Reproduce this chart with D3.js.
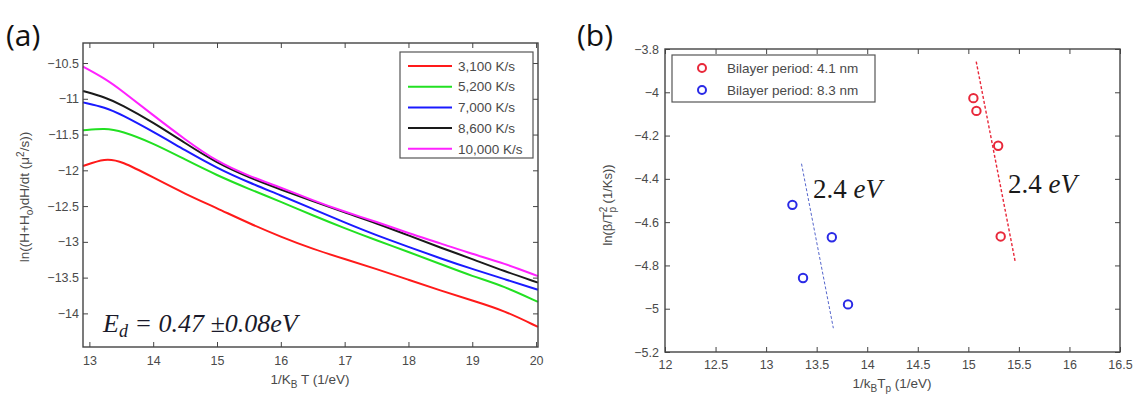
<!DOCTYPE html>
<html>
<head>
<meta charset="utf-8">
<script src="https://cdn.jsdelivr.net/npm/d3@7"></script>
<style>
  html, body { margin: 0; padding: 0; background: #fff; }
</style>
</head>
<body>
<script>
// ---------- Panel (a) data ----------
const aX = [12.9, 13.25, 13.5, 14, 14.5, 15, 15.5, 16, 16.5, 17, 17.5, 18, 18.5, 19, 19.5, 20.03];
const rate3100  = [-11.94, -11.83, -11.87, -12.10, -12.33, -12.53, -12.74, -12.93, -13.10, -13.24, -13.38, -13.53, -13.68, -13.82, -13.96, -14.19];
const rate5200  = [-11.44, -11.41, -11.45, -11.62, -11.85, -12.07, -12.26, -12.44, -12.63, -12.81, -12.98, -13.14, -13.31, -13.48, -13.62, -13.84];
const rate7000  = [-11.05, -11.12, -11.22, -11.46, -11.72, -11.97, -12.17, -12.35, -12.54, -12.73, -12.91, -13.07, -13.23, -13.38, -13.52, -13.67];
const rate8600  = [-10.89, -10.98, -11.08, -11.33, -11.62, -11.90, -12.10, -12.27, -12.43, -12.59, -12.74, -12.91, -13.08, -13.24, -13.41, -13.57];
const rate10000 = [-10.55, -10.72, -10.88, -11.23, -11.57, -11.88, -12.08, -12.24, -12.42, -12.58, -12.72, -12.88, -13.02, -13.17, -13.30, -13.48];
const aSeriesNames = ["3,100 K/s", "5,200 K/s", "7,000 K/s", "8,600 K/s", "10,000 K/s"];
const aSeriesValues = [rate3100, rate5200, rate7000, rate8600, rate10000];
const aColors = ["#ff1a1a", "#22e022", "#1a1aff", "#1a1a1a", "#ff22ff"];
const aXTicks = [13, 14, 15, 16, 17, 18, 19, 20];
const aYTicks = [-10.5, -11, -11.5, -12, -12.5, -13, -13.5, -14];

// ---------- Panel (b) data ----------
const b41X = [15.05, 15.08, 15.295, 15.32];
const b41Y = [-4.027, -4.086, -4.247, -4.666];
const b83X = [13.26, 13.365, 13.65, 13.81];
const b83Y = [-4.52, -4.858, -4.67, -4.98];
const fit41X = [15.078, 15.465];
const fit41Y = [-3.858, -4.786];
const fit83X = [13.35, 13.665];
const fit83Y = [-4.33, -5.09];
const bNames = ["Bilayer period: 4.1 nm", "Bilayer period: 8.3 nm"];
const bColors = ["#e8283a", "#2a2ae6"];
const bXTicks = [12, 12.5, 13, 13.5, 14, 14.5, 15, 15.5, 16, 16.5];
const bYTicks = [-3.8, -4, -4.2, -4.4, -4.6, -4.8, -5, -5.2];

const SANS = "'Liberation Sans', Arial, sans-serif";
const SERIF = "'Liberation Serif', 'Times New Roman', serif";
const svg = d3.select("body").append("svg").attr("width", 1135).attr("height", 394)
  .style("font-family", SANS);
const axisColor = "#444";
const textColor = "#4a4a4a";

function frame(x, y, xTicks, yTicks, xPad, yPad) {
  const [x0, x1] = x.range(), [y0, y1] = y.range();
  const g = svg.append("g");
  const fmt = d3.format("");
  g.append("g").attr("transform", `translate(0,${y0})`)
    .call(d3.axisBottom(x).tickValues(xTicks).tickSizeInner(-5).tickSizeOuter(0).tickPadding(xPad).tickFormat(fmt));
  g.append("g").attr("transform", `translate(0,${y1})`)
    .call(d3.axisTop(x).tickValues(xTicks).tickSizeInner(-5).tickSizeOuter(0).tickFormat(""));
  g.append("g").attr("transform", `translate(${x0},0)`)
    .call(d3.axisLeft(y).tickValues(yTicks).tickSizeInner(-5).tickSizeOuter(0).tickPadding(yPad).tickFormat(fmt));
  g.append("g").attr("transform", `translate(${x1},0)`)
    .call(d3.axisRight(y).tickValues(yTicks).tickSizeInner(-5).tickSizeOuter(0).tickFormat(""));
  g.selectAll(".domain").remove();
  g.selectAll("g").attr("font-family", null);
  g.selectAll(".tick line").attr("stroke", axisColor).attr("stroke-width", 1);
  g.selectAll(".tick text").attr("fill", textColor).style("font-size", "12.5px").style("font-family", SANS);
  g.append("rect").attr("x", x0).attr("y", y1).attr("width", x1 - x0).attr("height", y0 - y1)
    .attr("fill", "none").attr("stroke", axisColor).attr("stroke-width", 1.4);
  return g;
}

// ================= Panel (a) =================
const xA = d3.scaleLinear().domain([12.9, 20.03]).range([83, 538]);
const yA = d3.scaleLinear().domain([-14.47, -10.22]).range([347, 43]);

const lineA = d3.line().x(d => xA(d[0])).y(d => yA(d[1])).curve(d3.curveBasis);
const gA = svg.append("g");
aSeriesValues.forEach((vals, i) => {
  gA.append("path").datum(aX.map((xv, j) => [xv, vals[j]]))
    .attr("d", lineA).attr("fill", "none").attr("stroke", aColors[i]).attr("stroke-width", 2);
});
frame(xA, yA, aXTicks, aYTicks, 9, 4);

// legend (a)
const legA = svg.append("g");
legA.append("rect").attr("x", 400).attr("y", 52).attr("width", 133).attr("height", 106)
  .attr("fill", "#fff").attr("stroke", "#555").attr("stroke-width", 1.2);
aSeriesNames.forEach((n, i) => {
  const yy = 66 + i * 20.7;
  legA.append("line").attr("x1", 408).attr("x2", 452).attr("y1", yy).attr("y2", yy)
    .attr("stroke", aColors[i]).attr("stroke-width", 2);
  legA.append("text").attr("x", 458).attr("y", yy).attr("dy", "0.35em")
    .style("font-size", "13.5px").attr("fill", textColor).text(n);
});

// annotation (a)
const ed = svg.append("text").attr("x", 103).attr("y", 332)
  .style("font-family", SERIF).style("font-style", "italic")
  .style("font-size", "26px").attr("fill", "#1a1a2a");
ed.append("tspan").text("E");
ed.append("tspan").attr("dy", 5).style("font-size", "18px").text("d");
ed.append("tspan").attr("dy", -5).text(" = 0.47 \u00b10.08eV");

// labels (a)
const xlA = svg.append("text").attr("x", 310).attr("y", 384).attr("text-anchor", "middle")
  .style("font-size", "13.5px").attr("fill", textColor);
xlA.append("tspan").text("1/K");
xlA.append("tspan").attr("dy", 4).style("font-size", "10px").text("B");
xlA.append("tspan").attr("dy", -4).text(" T (1/eV)");

const ylA = svg.append("text").attr("transform", "translate(29,197) rotate(-90)")
  .attr("text-anchor", "middle").style("font-size", "13.5px").attr("fill", textColor);
ylA.append("tspan").text("ln((H+H");
ylA.append("tspan").attr("dy", 4).style("font-size", "10px").text("o");
ylA.append("tspan").attr("dy", -4).text(")dH/dt (\u03bc");
ylA.append("tspan").attr("dy", -5).style("font-size", "10px").text("2");
ylA.append("tspan").attr("dy", 5).text("/s))");

svg.append("text").attr("x", 6).attr("y", 46).style("font-family", "'Open Sans', sans-serif")
  .style("font-size", "30px").attr("fill", "#111").text("(a)");

// ================= Panel (b) =================
const xB = d3.scaleLinear().domain([12, 16.5]).range([665, 1120]);
const yB = d3.scaleLinear().domain([-5.2, -3.8]).range([352, 49]);
const gB = svg.append("g");

const lineB = d3.line().x(d => xB(d[0])).y(d => yB(d[1]));
gB.append("path").datum(fit41X.map((v, i) => [v, fit41Y[i]])).attr("d", lineB)
  .attr("stroke", bColors[0]).attr("stroke-width", 1.4).attr("stroke-dasharray", "3,2").attr("fill", "none");
gB.append("path").datum(fit83X.map((v, i) => [v, fit83Y[i]])).attr("d", lineB)
  .attr("stroke", "#5566cc").attr("stroke-width", 1).attr("stroke-dasharray", "3,2").attr("fill", "none");

gB.selectAll("circle.r").data(b41X.map((v, i) => [v, b41Y[i]])).enter().append("circle")
  .attr("cx", d => xB(d[0])).attr("cy", d => yB(d[1])).attr("r", 4.2)
  .attr("fill", "none").attr("stroke", bColors[0]).attr("stroke-width", 2);
gB.selectAll("circle.b").data(b83X.map((v, i) => [v, b83Y[i]])).enter().append("circle")
  .attr("cx", d => xB(d[0])).attr("cy", d => yB(d[1])).attr("r", 4.2)
  .attr("fill", "none").attr("stroke", bColors[1]).attr("stroke-width", 2);

frame(xB, yB, bXTicks, bYTicks, 8, 6);

// legend (b)
const legB = svg.append("g");
legB.append("rect").attr("x", 672).attr("y", 55).attr("width", 203).attr("height", 47)
  .attr("fill", "#fff").attr("stroke", "#555").attr("stroke-width", 1.2);
bNames.forEach((n, i) => {
  const yy = 68 + i * 22;
  legB.append("circle").attr("cx", 702).attr("cy", yy).attr("r", 4)
    .attr("fill", "none").attr("stroke", bColors[i]).attr("stroke-width", 2);
  legB.append("text").attr("x", 727).attr("y", yy).attr("dy", "0.35em")
    .style("font-size", "13.5px").attr("fill", textColor).text(n);
});

// annotations (b)
function evText(x, y) {
  const t = svg.append("text").attr("x", x).attr("y", y)
    .style("font-family", SERIF).style("font-size", "27px").attr("fill", "#1a1a1a");
  t.append("tspan").text("2.4 ");
  t.append("tspan").style("font-style", "italic").text("eV");
}
evText(813, 198);
evText(1008, 193);

// labels (b)
const xlB = svg.append("text").attr("x", 892).attr("y", 388).attr("text-anchor", "middle")
  .style("font-size", "13.5px").attr("fill", textColor);
xlB.append("tspan").text("1/k");
xlB.append("tspan").attr("dy", 4).style("font-size", "10px").text("B");
xlB.append("tspan").attr("dy", -4).text("T");
xlB.append("tspan").attr("dy", 4).style("font-size", "10px").text("p");
xlB.append("tspan").attr("dy", -4).text(" (1/eV)");

const ylB = svg.append("text").attr("transform", "translate(612,205) rotate(-90)")
  .attr("text-anchor", "middle").style("font-size", "13px").attr("fill", textColor);
ylB.append("tspan").text("ln(\u03b2/T");
ylB.append("tspan").attr("dy", -5).style("font-size", "10px").text("2");
ylB.append("tspan").attr("dx", -6).attr("dy", 9).style("font-size", "10px").text("p");
ylB.append("tspan").attr("dy", -4).text(" (1/Ks))");

svg.append("text").attr("x", 577).attr("y", 46).style("font-family", "'Open Sans', sans-serif")
  .style("font-size", "30px").attr("fill", "#111").text("(b)");
</script>
</body>
</html>
